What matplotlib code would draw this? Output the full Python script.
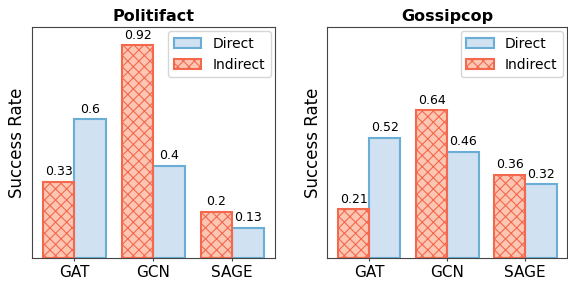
import matplotlib.pyplot as plt
import numpy as np

models = ["GAT", "GCN", "SAGE"]
titles = ["Politifact", "Gossipcop"]
direct = [[0.6, 0.4, 0.13], [0.52, 0.46, 0.32]]
indirect = [[0.33, 0.92, 0.2], [0.21, 0.64, 0.36]]

red_edge = "#f4694e"
red_fill = "#fcc6b2"
blue_edge = "#6aaed6"
blue_fill = "#d0e1f1"

plt.rcParams["hatch.color"] = red_edge
plt.rcParams["hatch.linewidth"] = 0.8

fig = plt.figure(figsize=(5.68, 2.81), dpi=100)
axes = [fig.add_axes([0.056, 0.082, 0.428, 0.822]),
        fig.add_axes([0.576, 0.082, 0.423, 0.822])]

x = np.arange(len(models))
w = 0.4
for ax, title, d, ind in zip(axes, titles, direct, indirect):
    b1 = ax.bar(x + w / 2, d, w, color=blue_fill, edgecolor=blue_edge,
                linewidth=1.5, label="Direct")
    b2 = ax.bar(x - w / 2, ind, w, color=red_fill, edgecolor=red_edge,
                linewidth=1.5, hatch="xxx", label="Indirect")
    for bars, vals in ((b2, ind), (b1, d)):
        for b, v in zip(bars, vals):
            ax.text(b.get_x() + b.get_width() / 2, v + 0.015, f"{v:g}",
                    ha="center", va="bottom", fontsize=9)
    ax.set_ylim(0, 1)
    ax.set_yticks([])
    ax.set_xticks(x)
    ax.set_xticklabels(models, fontsize=11)
    ax.tick_params(axis="x", length=2.5, pad=2.5, color="#444444")
    for s in ax.spines.values():
        s.set_color("#444444")
    ax.set_ylabel("Success Rate", fontsize=12)
    ax.set_title(title, fontsize=11.5, fontweight="bold", pad=4)
    ax.legend(handles=[b1, b2], loc="upper right", fontsize=10,
              borderaxespad=0.3)

fig.savefig("out.png", dpi=100)
